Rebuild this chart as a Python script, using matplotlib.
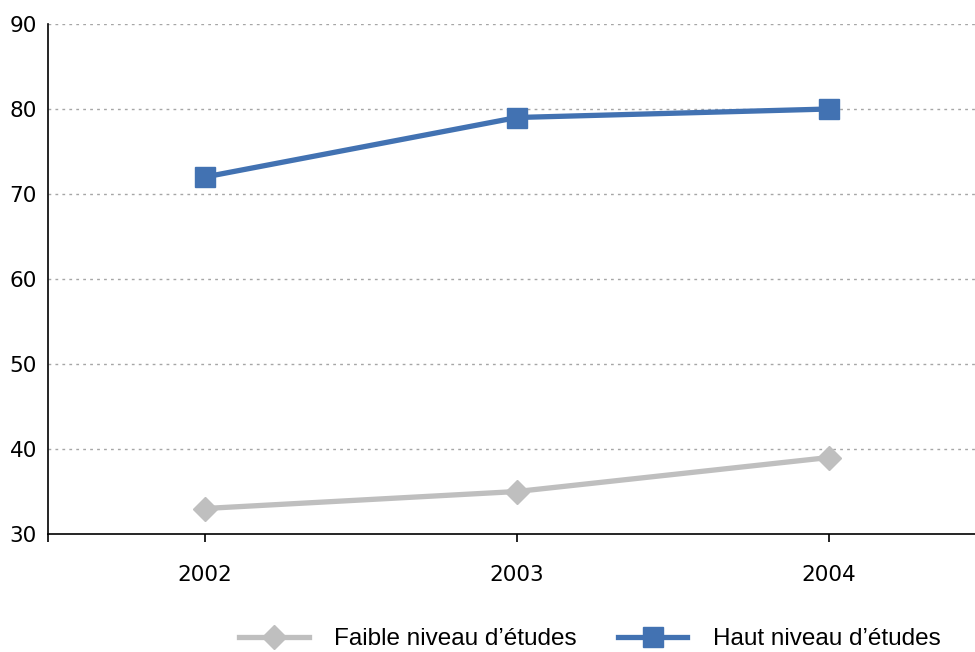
import matplotlib
matplotlib.use("Agg")
import matplotlib.pyplot as plt
from matplotlib.lines import Line2D

years = ["2002", "2003", "2004"]
faible = [33, 35, 39]
haut = [72, 79, 80]
series_labels = ["Faible niveau d\u2019études", "Haut niveau d\u2019études"]
y_ticks = [30, 40, 50, 60, 70, 80, 90]

grey = "#BFBFBF"
blue = "#4272B2"

fig = plt.figure(figsize=(9.75, 6.52), dpi=100)
ax = fig.add_axes([48 / 975, 118 / 652, (975 - 48) / 975, (534 - 24) / 652])

x = list(range(len(years)))
ax.plot(x, faible, color=grey, lw=3.8, marker="D", ms=12.5, mec=grey, mfc=grey, zorder=3)
ax.plot(x, haut, color=blue, lw=3.8, marker="s", ms=15, mec=blue, mfc=blue, zorder=3)

ax.set_xlim(-0.503, 2.468)
ax.set_ylim(30, 90)
ax.set_yticks(y_ticks)
ax.set_xticks([-0.503] + x)
ax.set_xticklabels([""] + years)

for y in y_ticks[1:]:
    ax.axhline(y, color="#A6A6A6", lw=1, ls=(0, (2, 3)), zorder=1)

for side in ("top", "right"):
    ax.spines[side].set_visible(False)
for side in ("left", "bottom"):
    ax.spines[side].set_color("black")
    ax.spines[side].set_linewidth(1.2)

ax.tick_params(axis="y", length=0, pad=8, labelsize=15.5, colors="black")
ax.tick_params(axis="x", length=6, width=1.2, pad=16, labelsize=15.5, colors="black")
for lab in ax.get_xticklabels() + ax.get_yticklabels():
    lab.set_family("DejaVu Sans")

handles = [
    Line2D([], [], color=grey, lw=3.8, marker="D", ms=12.5),
    Line2D([], [], color=blue, lw=3.8, marker="s", ms=15),
]
fig.legend(handles, series_labels, loc="center", bbox_to_anchor=(590 / 975, 1 - 639 / 652),
           ncol=2, frameon=False, handlelength=2.85, handletextpad=1.05, columnspacing=1.7,
           prop={"family": "Liberation Sans", "size": 17.5})

fig.savefig("out.png", dpi=100)
